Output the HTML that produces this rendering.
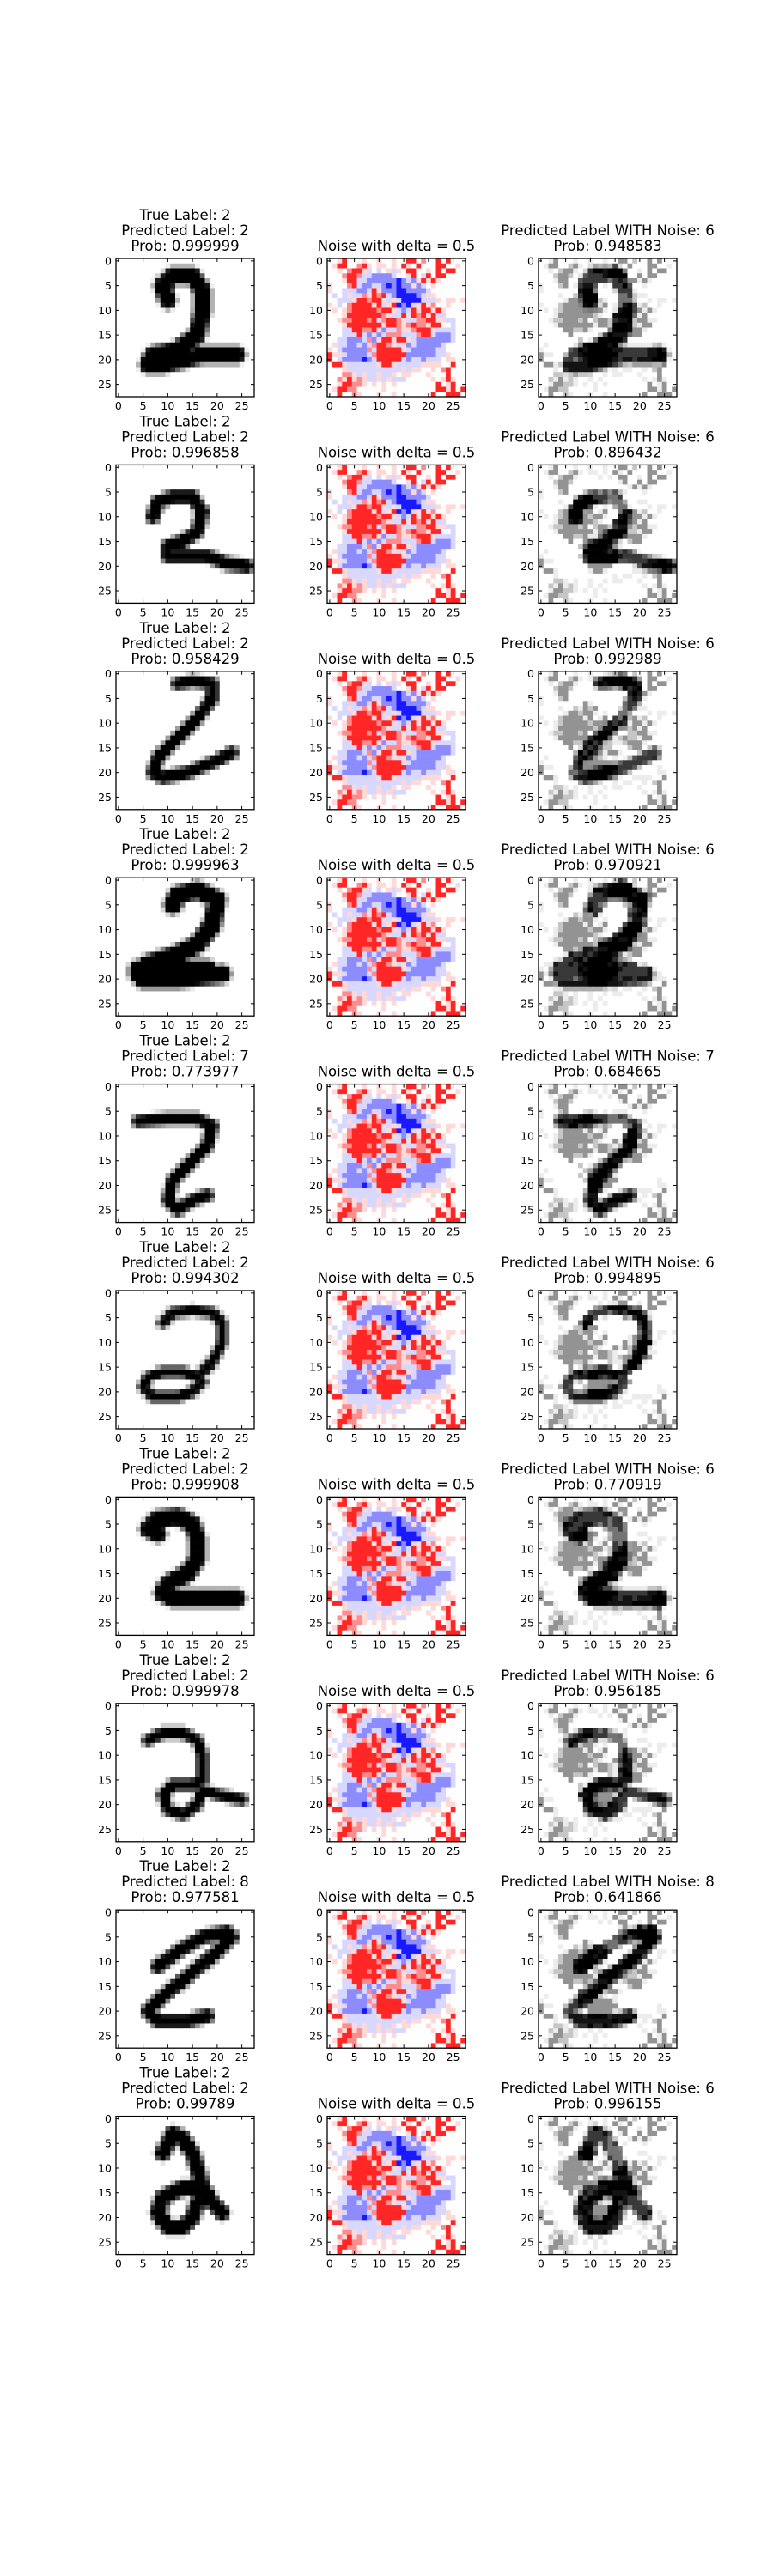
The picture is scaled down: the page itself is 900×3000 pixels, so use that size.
<!DOCTYPE html>
<html><head><meta charset="utf-8">
<style>
html,body{margin:0;padding:0;background:#fff;}
svg{display:block;}
text{font-family:"DejaVu Sans","Liberation Sans",sans-serif;fill:#000;}
</style></head>
<body>
<svg id="fig" width="900" height="3000" viewBox="0 0 900 3000" xmlns="http://www.w3.org/2000/svg"></svg>
<script>
// ---- data ----
const trueLabels = [2,2,2,2,2,2,2,2,2,2];
const predLabels = [2,2,2,2,7,2,2,2,8,2];
const predProbs = ["0.999999","0.996858","0.958429","0.999963","0.773977","0.994302","0.999908","0.999978","0.977581","0.99789"];
const noisyLabels = [6,6,6,6,7,6,6,6,8,6];
const noisyProbs = ["0.948583","0.896432","0.992989","0.970921","0.684665","0.994895","0.770919","0.956185","0.641866","0.996155"];
const tickLabels = [0,5,10,15,20,25];
const delta = 0.5;
// digit strokes in pixel (col,row) coords of 28x28 image
const digit1 = [[[10,8],[9,5],[11,3],[15,3],[17,6],[17,10],[16,15],[12,18],[7,19],[6,21],[9,21],[13,20],[17,19],[24,19]]];
const digit2 = [[[7,10],[8,7],[11,6],[15,6],[17,9],[16,13],[13,15],[10,16],[10,18],[13,18],[18,18],[22,19.5],[26,20]]];
const digit3 = [[[12,2],[15,1.5],[19,2],[19,5],[16,9],[12,13],[8,17],[7,20],[9,21],[14,20],[19,18],[23,16]]];
const digit4 = [[[11,5],[12,3],[16,2],[20,4],[19,9],[16,13],[12,15],[6,17],[4,19],[5,20],[12,20],[21,19]],[[4,18],[12,18],[18,18]]];
const digit5 = [[[4,7],[10,6.5],[16,6.5],[19,8],[18,12],[14,16],[11,19],[10,23],[12,25],[15,23],[18,22]]];
const digit6 = [[[9,6],[11,4],[15,3.5],[19,4],[21,6],[21,10],[19,14],[16,17],[13,16],[9,16],[6,17],[5,19],[7,21],[12,21],[15,20],[17,18]]];
const digit7 = [[[6,6],[8,4],[12,3.5],[15,5],[16,8],[16,12],[14,15],[10,17],[9,19],[11,20],[16,20],[24,20]],[[6,6],[8,7]]];
const digit8 = [[[6,7],[9,5.5],[13,5.5],[16,7],[17,10],[17,15],[15,16],[11,16],[9,18],[10,21],[13,22],[16,20],[17,17],[20,18],[25,19]]];
const digit9 = [[[8,11],[12,8],[17,5],[22,4],[23,5],[20,8],[14,13],[9,17],[6,20],[8,22],[14,22],[18,21]]];
const digit10 = [[[9,7],[11,3],[13,4],[15,7],[16,10],[17,14],[19,17],[21,19]],[[17,14],[13,14],[9,16],[8,19],[10,22],[13,22],[15,20],[16,17]]];
const digits = [digit1,digit2,digit3,digit4,digit5,digit6,digit7,digit8,digit9,digit10];
const thickness = [1.4,1.0,0.9,1.5,0.9,0.7,1.4,0.8,1.0,1.2];
// noise map: R strong red .. X strong blue
const noiseRows = [
"..pR...p..p..p..RR.r..R.R...",
".pRR..rRp.pp.p.Rp.R...RR..p.",
"..p.rRRpb.b.pbp.RR..p.R.RR..",
"...rRRrbbBBBBb..pR.bR.RR....",
"...pRRbbBBBBBBXBbBpRpRp.....",
"p...rRbBBbbBXBXBBpBb.p......",
"p..bbbBBbRpBBBXXBBBBb.......",
".b.bpbbrpRrRbBXXXXBbpp......",
"..bbbpRRrRRpbpbXXXXbbbp.pp.p",
"p.b.rRRRRpRbpRXBXbpRpr..p...",
".p.prRRRRRrRRpbBbRpRRpRp....",
"...pRRRRRRRrpbbRpRrRpRbb....",
"..prrRRRrRbrRRrpbbrrRRppbb..",
"...pRRRRRRRpRRrprRrrpRR..b..",
"...bbRRrrRpBbbrpprRRRpbbbb..",
"...bbbRbBbBbrrrbbbrRRbBBBb..",
"..bbBBBbrBpRRpRRpbBBBBBBBb..",
".pbbBBbBbrRRrpbpBbBBBBBb....",
"p.bBBBBBrbRRRRRpbBBBBBbb....",
"RppbBBBBbrRRRRRRBBBBBBbbp...",
"R.bBBBBXBbRRRRRbBbbBbbb.pp..",
".RRpbbbbbbpRRpbbbbbpppp..R..",
"...pbbbbbbbbbbbpbpp..p.rR...",
"...rrpbpbbpbbp.pp...p...R...",
"..rpRprpbbpbpbbb.....p.pRp..",
"..pRRrrp.p.p.p........R.pR..",
".pRRrr.....p..........RRpR.R",
"..R..rp...p..p.......R..RRR."];
const noiseLevels = {"R":0.85,"r":0.45,"p":0.15,".":0,"b":-0.15,"B":-0.45,"X":-0.9};

// ---- layout ----
const svg = document.getElementById('fig');
const NS = 'http://www.w3.org/2000/svg';
const colLeft = [135,381,627];
const axSize = 161;
const rowTop0 = 301, rowPitch = 240.4;
const cell = axSize/28;

function mk(tag, attrs, parent){
  const e = document.createElementNS(NS, tag);
  for (const k in attrs) e.setAttribute(k, attrs[k]);
  (parent||svg).appendChild(e);
  return e;
}
function segDist(px,py,ax,ay,bx,by){
  const dx=bx-ax, dy=by-ay; const L=dx*dx+dy*dy;
  let t = L? ((px-ax)*dx+(py-ay)*dy)/L : 0; t=Math.max(0,Math.min(1,t));
  const qx=ax+t*dx-px, qy=ay+t*dy-py; return Math.sqrt(qx*qx+qy*qy);
}
function rasterize(strokes, th){
  const img=[];
  for(let r=0;r<28;r++){const row=[];for(let c=0;c<28;c++){
    let m=99;
    for(const s of strokes){ for(let i=0;i<s.length-1;i++){
      const a=s[i], b=s[i+1];
      m=Math.min(m,segDist(c,r,a[0],a[1],b[0],b[1])); }}
    row.push(Math.max(0,Math.min(1,(th+0.9-m)/1.0)));
  }img.push(row);}
  return img;
}
const noise = noiseRows.map(s=>s.split('').map(ch=>noiseLevels[ch]));
function grayColor(d){const v=Math.round(255*(1-d));return `rgb(${v},${v},${v})`;}
function bwrColor(v){
  if(v>=0){const g=Math.round(254*(1-v));return `rgb(255,${g},${g})`;}
  const g=Math.round(254*(1+v));return `rgb(${g},${g},255)`;
}
function xPos(left,i){return left+(i+0.5)*cell;}
function yPos(top,i){return top+(i+0.5)*cell;}

function drawAxes(left, top, img, colorFn, name){
  const g = mk('g',{});
  
  
  for(let r=0;r<28;r++)for(let c=0;c<28;c++){
    const rc = mk('rect',{x:(left+c*cell).toFixed(2),y:(top+r*cell).toFixed(2),width:(cell+0.3).toFixed(2),height:(cell+0.3).toFixed(2),fill:colorFn(img[r][c])},g);
    
    
  }
  const fr = mk('rect',{x:left,y:top,width:axSize,height:axSize,fill:'none',stroke:'#000','stroke-width':1.3},g);
  
  
  for(const t of tickLabels){
    const x=xPos(left,t), y=yPos(top,t);
    mk('line',{x1:x,y1:top+axSize,x2:x,y2:top+axSize-4,stroke:'#000','stroke-width':1},g);
    mk('line',{x1:x,y1:top,x2:x,y2:top+4,stroke:'#000','stroke-width':1},g);
    mk('line',{x1:left,y1:y,x2:left+4,y2:y,stroke:'#000','stroke-width':1},g);
    mk('line',{x1:left+axSize,y1:y,x2:left+axSize-4,y2:y,stroke:'#000','stroke-width':1},g);
    const xt = mk('text',{x:x,y:top+axSize+15,'font-size':12.5,'text-anchor':'middle'},g);
    xt.textContent=t;
    
    
    const yt = mk('text',{x:left-5,y:y+4.5,'font-size':12.5,'text-anchor':'end'},g);
    yt.textContent=t;
    
    
  }
}
function title(lines, cx, top, name){
  const n=lines.length;
  lines.forEach((s,i)=>{
    const t=mk('text',{x:cx,y:top-9-(n-1-i)*18,'font-size':16.5,'text-anchor':'middle'});
    t.textContent=s;
    
    
  });
}

for(let k=0;k<digits.length;k++){
  const top = rowTop0 + k*rowPitch;
  const img = rasterize(digits[k], thickness[k]);
  const noisy = img.map((row,r)=>row.map((d,c)=>Math.max(0,Math.min(1,d+delta*noise[r][c]))));
  drawAxes(colLeft[0], top, img, grayColor, 'original-image');
  drawAxes(colLeft[1], top, noise, bwrColor, 'noise-image');
  drawAxes(colLeft[2], top, noisy, grayColor, 'noisy-image');
  title(['True Label: '+trueLabels[k],'Predicted Label: '+predLabels[k],'Prob: '+predProbs[k]], colLeft[0]+axSize/2, top, 'original-title');
  title(['Noise with delta = '+delta], colLeft[1]+axSize/2, top, 'noise-title');
  title(['Predicted Label WITH Noise: '+noisyLabels[k],'Prob: '+noisyProbs[k]], colLeft[2]+axSize/2, top, 'noisy-title');
}
</script>
</body></html>
